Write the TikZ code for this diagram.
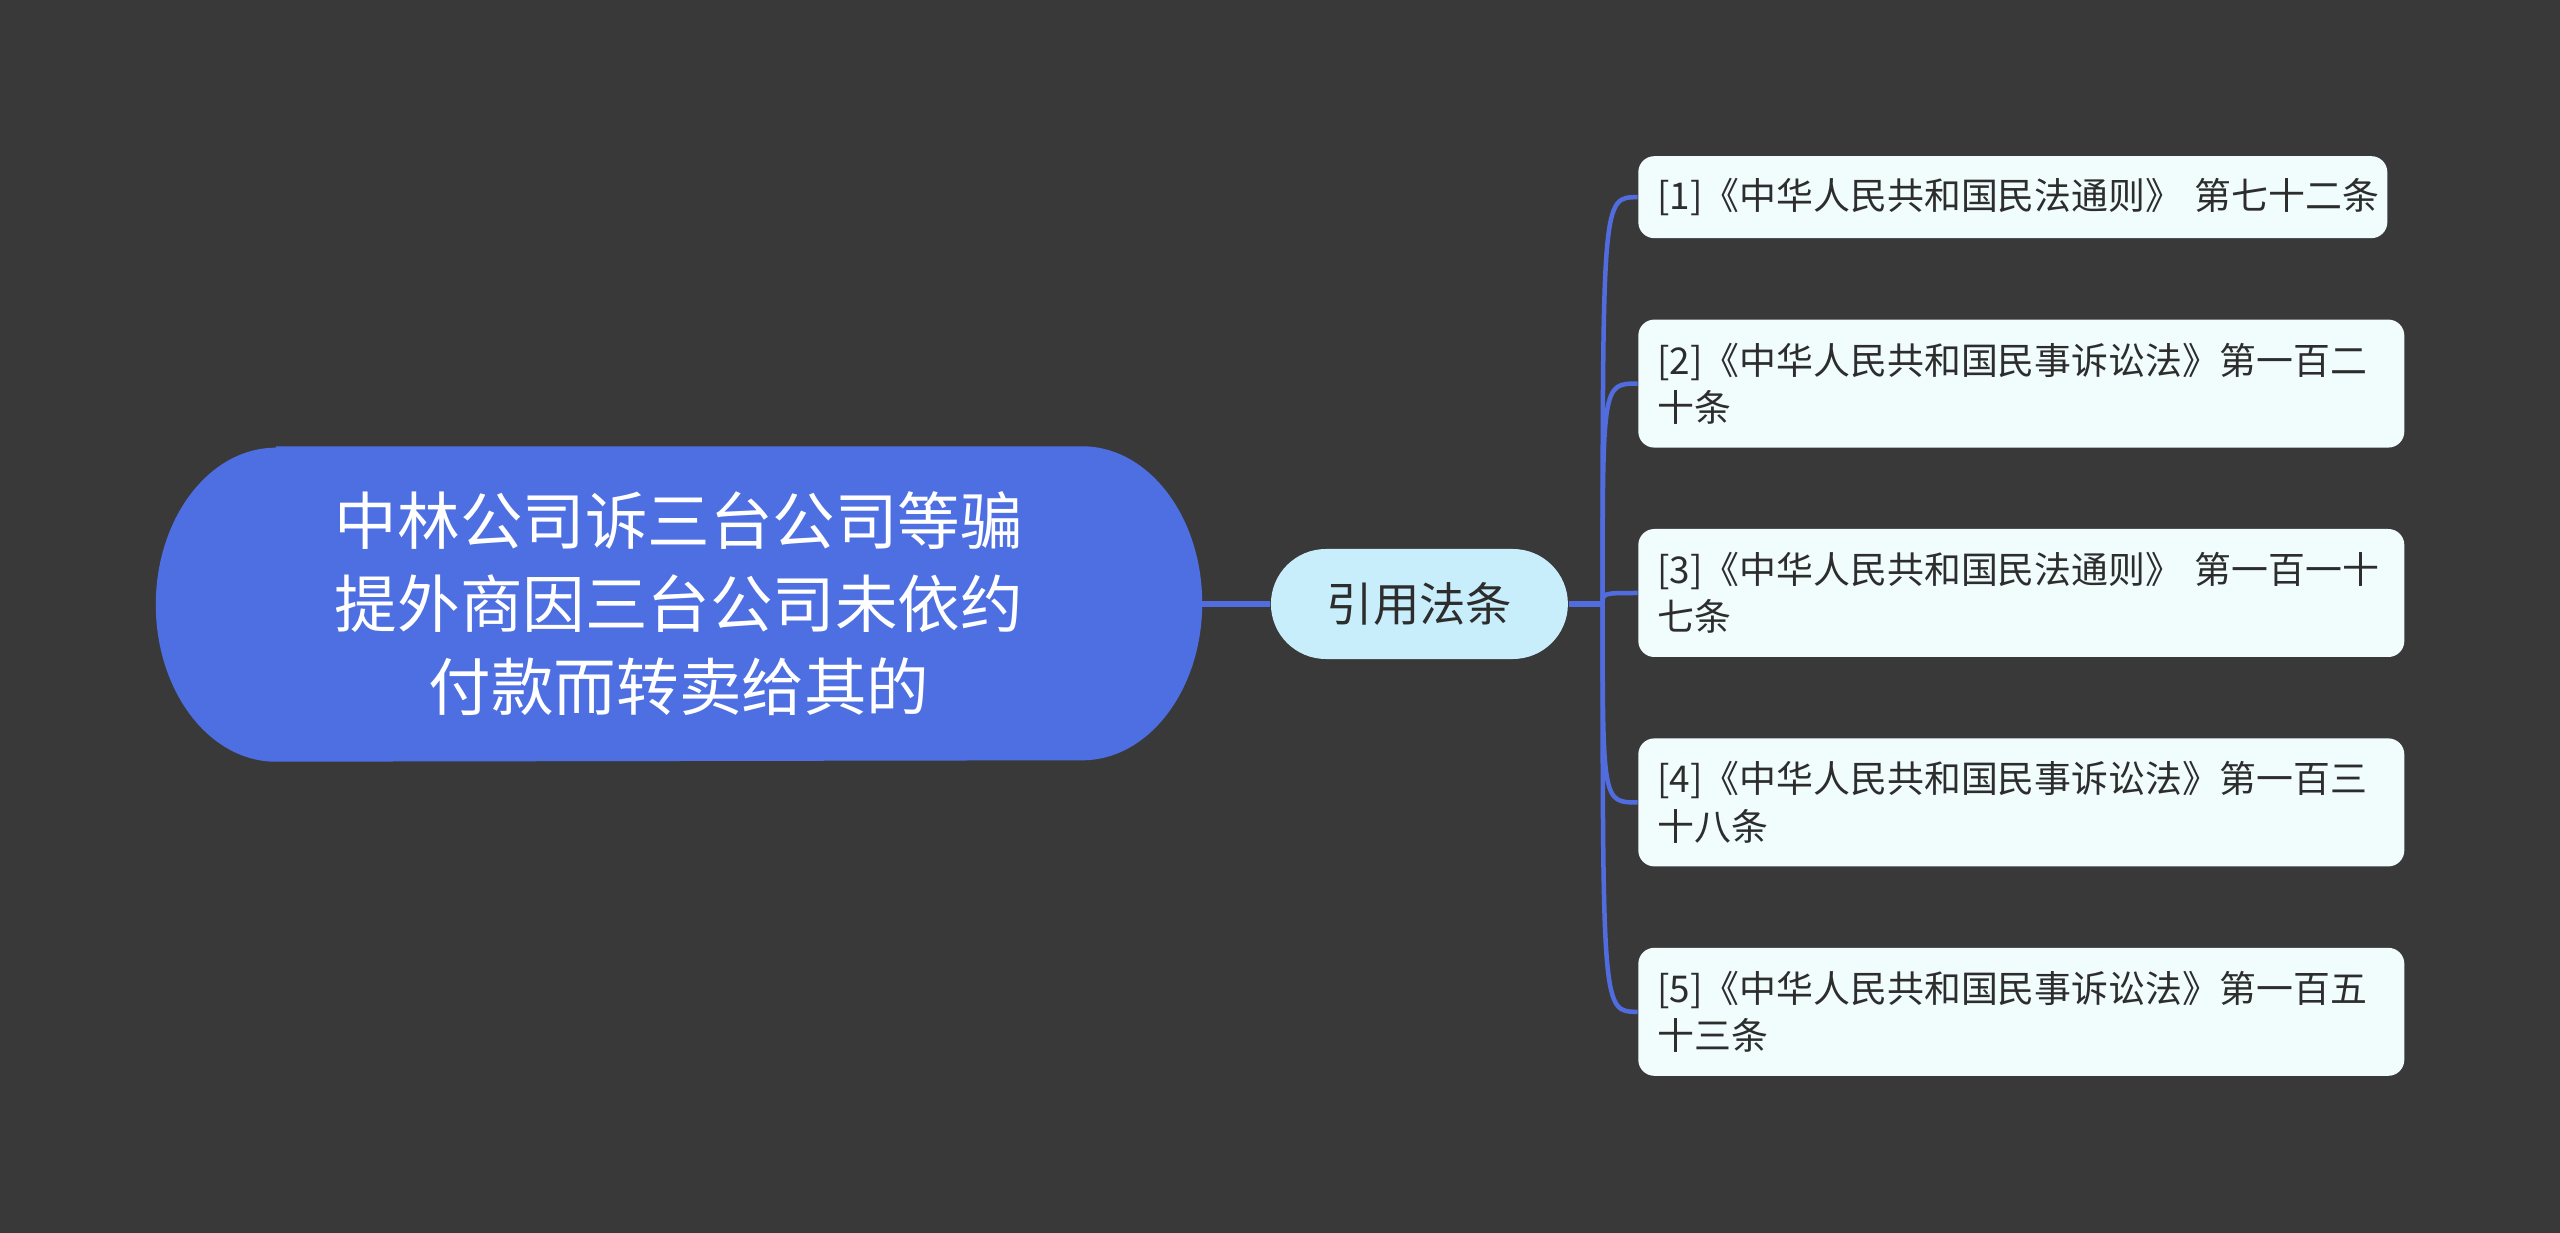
\documentclass[tikz,border=0pt]{standalone}
\usepackage{fontspec}
\setmainfont{Noto Sans CJK SC}
\usetikzlibrary{positioning, backgrounds}

\definecolor{bgcol}{RGB}{58,57,58}
\definecolor{rootblue}{RGB}{77,111,226}
\definecolor{linkblue}{RGB}{80,108,222}
\definecolor{midcyan}{RGB}{201,238,251}
\definecolor{leafcyan}{RGB}{241,252,253}
\definecolor{inkgray}{RGB}{45,45,45}

\tikzset{
	topic/.style={minimum width=10.45cm, minimum height=3.14cm, text=white, align=center, font=\fontsize{17.8}{23.6}\selectfont},
	subtopic/.style={fill=midcyan, rounded corners=0.55cm, minimum width=2.97cm, minimum height=1.1cm, text=inkgray, font=\fontsize{13.2}{16}\selectfont},
	leaf/.style={fill=leafcyan, rounded corners=0.16cm, text width=7.28cm, minimum height=1.28cm, inner xsep=0.19cm, align=left, text=inkgray, font=\fontsize{10.5}{13.4}\selectfont},
	trunk/.style={draw=linkblue, line width=0.06cm},
	branch/.style={draw=linkblue, line width=0.045cm},
}

\begin{document}
\begin{tikzpicture}
	\useasboundingbox (0,0) rectangle (25.6,-12.33);

	\node[topic] (root) at (6.79,-6.04) {中林公司诉三台公司等骗\\提外商因三台公司未依约\\付款而转卖给其的};
	\node[subtopic, right=0.68cm of root] (cite) {引用法条};
	\coordinate[right=0.34cm of cite] (fork);

	\node[leaf, right=0.69cm of cite, yshift=0.11cm] (law3) {[3]《中华人民共和国民法通则》~第一百一十\\七条};
	\node[leaf, above=0.8cm of law3] (law2) {[2]《中华人民共和国民事诉讼法》第一百二\\十条};
	\node[leaf, text width=7.11cm, minimum height=0.82cm, above=0.8cm of law2.north west, anchor=south west] (law1) {[1]《中华人民共和国民法通则》~第七十二条};
	\node[leaf, below=0.8cm of law3] (law4) {[4]《中华人民共和国民事诉讼法》第一百三\\十八条};
	\node[leaf, below=0.8cm of law4] (law5) {[5]《中华人民共和国民事诉讼法》第一百五\\十三条};

	\begin{scope}[on background layer]
		\fill[bgcol] (0,0) rectangle (25.6,-12.33);
		\fill[rootblue] ([xshift=1.2cm]root.north west) -- ([xshift=-1.2cm]root.north east)
			arc[start angle=90, end angle=-90, x radius=1.2cm, y radius=1.57cm]
			-- ([xshift=1.2cm]root.south west)
			arc[start angle=270, end angle=90, x radius=1.2cm, y radius=1.57cm] -- cycle;
	\end{scope}

	\draw[trunk] (root) -- (cite);
	\draw[trunk] (cite) -- (fork);
	\foreach \n in {1,...,5}
		\draw[branch] (fork) .. controls (fork |- law\n.west) .. (law\n.west);
\end{tikzpicture}
\end{document}
